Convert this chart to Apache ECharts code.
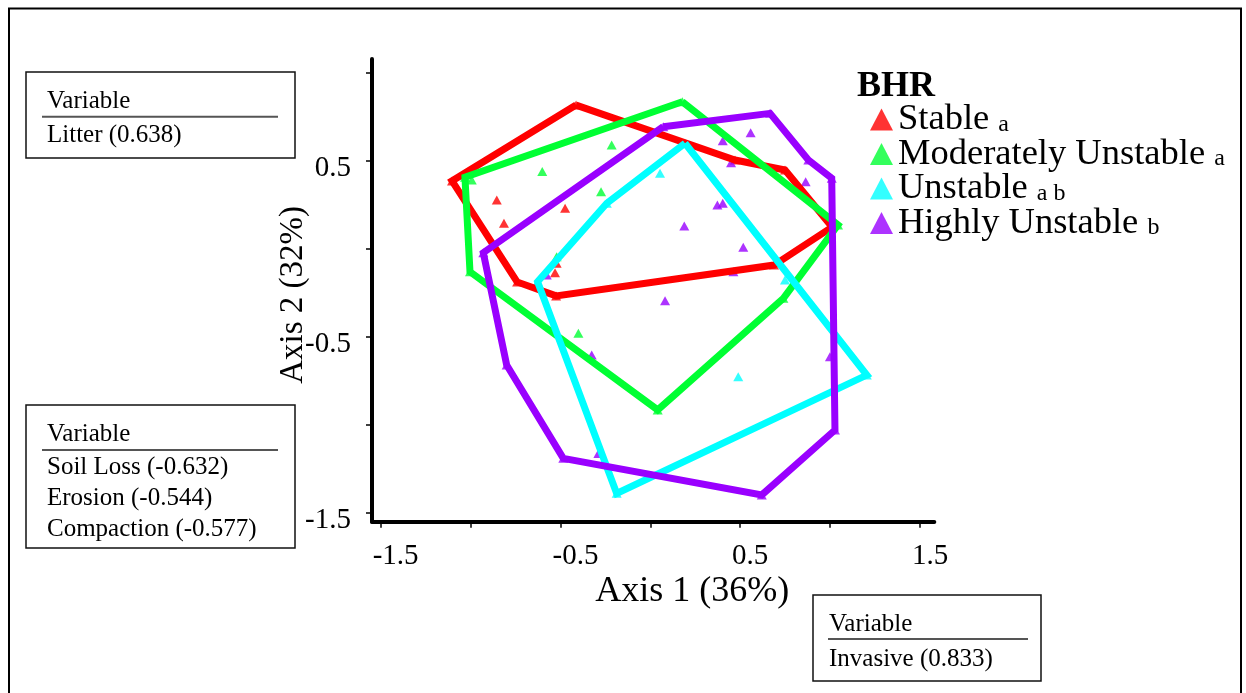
<!DOCTYPE html>
<html><head><meta charset="utf-8">
<script src="https://cdn.jsdelivr.net/npm/echarts@6/dist/echarts.min.js"></script>
<style>html,body{margin:0;padding:0;background:#fff}#c{width:1246px;height:693px}</style>
</head><body><div id="c"></div>
<script>
// ---- data ----
const groupNames = ['Stable', 'Moderately Unstable', 'Unstable', 'Highly Unstable'];
const groupLetters = ['a', 'a', 'a b', 'b'];
const groupColors = ['#ff0000', '#00ff33', '#00ffff', '#9900ff'];

// convex hull vertices (in drawing order)
const stableHull = [[-0.413,0.816],[0.471,0.504],[0.749,0.447],[1.011,0.123],[0.688,-0.093],[-0.524,-0.268],[-0.741,-0.189],[-1.103,0.385]];
const moderateHull = [[0.178,0.835],[1.044,0.135],[0.740,-0.282],[0.041,-0.916],[-1.003,-0.131],[-1.031,0.406]];
const unstableHull = [[0.193,0.599],[-0.242,0.258],[-0.627,-0.188],[-0.187,-1.390],[1.204,-0.718]];
const highlyHull = [[0.072,0.693],[0.666,0.769],[0.879,0.504],[1.009,0.400],[1.027,-1.030],[0.620,-1.399],[-0.484,-1.191],[-0.799,-0.661],[-0.929,-0.023]];

// interior sites
const stableInner = [[-0.854,0.277],[-0.814,0.144],[-0.474,0.230],[-0.521,-0.083],[-0.530,-0.136]];
const moderateInner = [[-0.993,0.390],[-0.215,0.589],[-0.601,0.438],[-0.274,0.324],[-0.400,-0.481],[-0.521,-0.045]];
const unstableInner = [[0.749,-0.178],[0.489,-0.727],[0.054,0.428]];
const highlyInner = [[0.558,0.659],[0.403,0.614],[0.449,0.489],[0.864,0.381],[0.373,0.248],[0.403,0.258],[0.189,0.129],[0.517,0.008],[0.082,-0.295],[-0.326,-0.604],[0.999,-0.614],[0.462,-0.131],[-0.289,-1.163],[-0.576,-0.149]];

const xTickValues = [-1.5, -1, -0.5, 0, 0.5, 1, 1.5];
const xLabelValues = [-1.5, -0.5, 0.5, 1.5];
const yTickValues = [-1.5, -1, -0.5, 0, 0.5, 1];
const yLabelValues = [-1.5, -0.5, 0.5];

const boxHeader = 'Variable';
const litterBox = ['Litter (0.638)'];
const soilBox = ['Soil Loss (-0.632)', 'Erosion (-0.544)', 'Compaction (-0.577)'];
const invasiveBox = ['Invasive (0.833)'];

// ---- build ----
const FONT = 'Liberation Serif';
const hulls = [stableHull, moderateHull, unstableHull, highlyHull];
const inners = [stableInner, moderateInner, unstableInner, highlyInner];

const series = [];
groupNames.forEach((n, i) => {
  series.push({
    name: n, type: 'scatter', symbol: 'triangle', symbolSize: [10, 9],
    itemStyle: { color: groupColors[i] },
    data: hulls[i].concat(inners[i]),
    emphasis: { disabled: true }, z: 2
  });
});
groupNames.forEach((n, i) => {
  series.push({
    name: n, type: 'line', showSymbol: false, symbol: 'none',
    data: hulls[i].concat([hulls[i][0]]),
    lineStyle: { color: groupColors[i], width: 7, join: 'miter' },
    itemStyle: { color: groupColors[i] },
    emphasis: { disabled: true }, z: 3, animation: false
  });
});

function box(x, y, w, h, headerY, ruleY, ruleX1, ruleX2, textX, lines, lineYs) {
  const els = [];
  els.push({ type: 'rect', shape: { x: x, y: y, width: w, height: h }, style: { fill: '#fff', stroke: '#111', lineWidth: 1.5 }, z: 1 });
  els.push({ type: 'text', x: textX, y: headerY, style: { text: boxHeader, font: '25px "' + FONT + '"', fill: '#000', verticalAlign: 'middle' }, z: 2 });
  els.push({ type: 'line', shape: { x1: ruleX1, y1: ruleY, x2: ruleX2, y2: ruleY }, style: { stroke: '#555', lineWidth: 2 }, z: 2 });
  lines.forEach((t, k) => {
    els.push({ type: 'text', x: textX, y: lineYs[k], style: { text: t, font: '25px "' + FONT + '"', fill: '#000', verticalAlign: 'middle' }, z: 2 });
  });
  return els;
}

const graphics = [
  { type: 'rect', shape: { x: 9, y: 8.5, width: 1232, height: 700 }, style: { fill: 'none', stroke: '#000', lineWidth: 2 }, z: 0, silent: true }
].concat(
  box(26, 72, 269, 86, 101.5, 116.7, 42, 278, 47, litterBox, [135]),
  box(26, 405, 269, 143, 434.5, 450, 42, 278, 47, soilBox, [467.5, 498.5, 529.5]),
  box(813, 595, 228, 86, 624, 639, 828, 1028, 829, invasiveBox, [659])
);

const chart = echarts.init(document.getElementById('c'), null, { renderer: 'canvas' });
chart.setOption({
  animation: false,
  backgroundColor: '#fff',
  title: {
    text: 'BHR', left: 857, top: 69, padding: 0,
    textStyle: { fontFamily: FONT, fontWeight: 'bold', fontSize: 36, lineHeight: 36, color: '#000' }
  },
  legend: {
    orient: 'vertical', left: 870, top: 101, padding: 0, itemGap: -2.5,
    itemWidth: 23, itemHeight: 22, icon: 'triangle',
    data: groupNames,
    formatter: function (name) {
      const i = groupNames.indexOf(name);
      return '{m|' + name + ' }{s|' + groupLetters[i] + '}';
    },
    textStyle: {
      color: '#000', fontFamily: FONT, fontSize: 36.5,
      rich: {
        m: { fontFamily: FONT, fontSize: 36.5, lineHeight: 34, color: '#000' },
        s: { fontFamily: FONT, fontSize: 24, lineHeight: 26, verticalAlign: 'bottom', color: '#000' }
      }
    }
  },
  grid: { left: 372, right: 311.7, top: 59, bottom: 171.3, containLabel: false },
  xAxis: {
    type: 'value', min: -1.548, max: 1.5795,
    name: 'Axis 1 (36%)', nameLocation: 'middle', nameGap: 52, nameMoveOverlap: false,
    nameTextStyle: { fontFamily: FONT, fontSize: 36, lineHeight: 36, color: '#000', padding: [0, 0, 0, 78] },
    axisLine: { show: true, onZero: false, lineStyle: { color: '#000', width: 4 } },
    axisTick: { show: true, customValues: xTickValues, length: 6, lineStyle: { color: '#000', width: 1.5 } },
    axisLabel: {
      show: true, customValues: xLabelValues, margin: 20, fontFamily: FONT, fontSize: 29, color: '#000',
      formatter: function (v) { return v < 0 ? '{n|' + v + '}' : '{p|' + v + '}'; },
      rich: {
        n: { fontFamily: FONT, fontSize: 29, color: '#000', padding: [0, 0, 0, 30] },
        p: { fontFamily: FONT, fontSize: 29, color: '#000', padding: [0, 0, 0, 20] }
      }
    },
    splitLine: { show: false }
  },
  yAxis: {
    type: 'value', min: -1.551, max: 1.0778,
    name: 'Axis 2 (32%)', nameLocation: 'middle', nameGap: 62, nameMoveOverlap: false,
    nameTextStyle: { fontFamily: FONT, fontSize: 33, lineHeight: 33, color: '#000', padding: [0, 9, 0, 0] },
    axisLine: { show: true, onZero: false, lineStyle: { color: '#000', width: 4 } },
    axisTick: { show: true, customValues: yTickValues, length: 6, lineStyle: { color: '#000', width: 1.5 } },
    axisLabel: { show: true, customValues: yLabelValues, margin: 21, fontFamily: FONT, fontSize: 29, color: '#000', verticalAlign: 'top', lineHeight: 15 },
    splitLine: { show: false }
  },
  graphic: graphics,
  series: series
});
</script>
</body></html>
